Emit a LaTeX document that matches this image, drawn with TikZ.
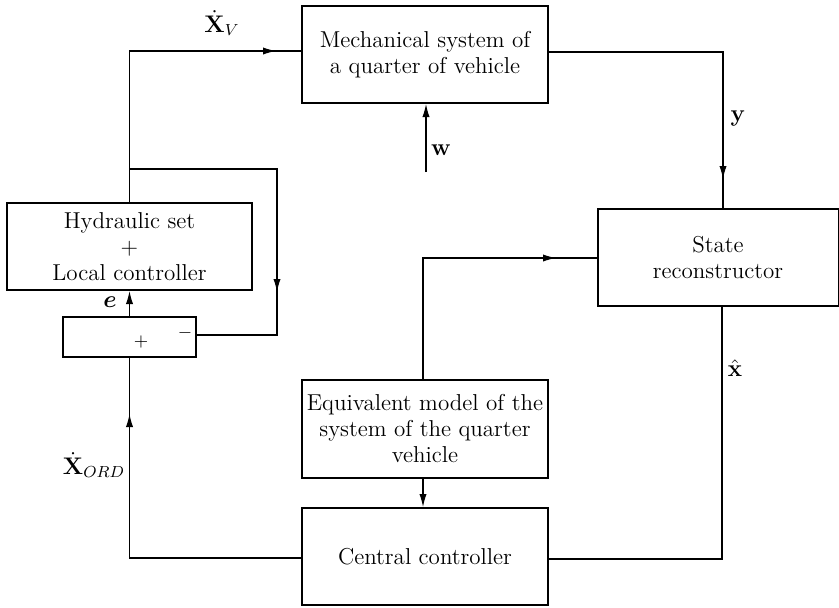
\documentclass[tikz,border=0pt]{standalone}
\usepackage{amsmath,amssymb}
\usetikzlibrary{arrows.meta,positioning}

\begin{document}
\begin{tikzpicture}[x=0.5pt,y=-0.5pt,>={Latex[length=6.5pt,width=3.6pt]}]
          \tikzstyle{block}=[rectangle,draw=black,line width=1pt,align=center,inner sep=2pt,font=\fontsize{11.5}{13}\selectfont]
          \tikzstyle{lab}=[inner sep=0pt,font=\fontsize{11.5}{13}\selectfont]
          \tikzstyle{wire}=[line width=0.55pt]

          \useasboundingbox (0,0) rectangle (839,607);

          \begin{scope}
            \node[block,minimum width=123pt,minimum height=48.5pt](mech) at (425,54.5){Mechanical system of\\a quarter of vehicle};
            \node[block,minimum width=122.5pt,minimum height=43.5pt](hyd) at (129.5,246.5){Hydraulic set\\+\\Local controller};
            \node[block,minimum width=66.5pt,minimum height=20pt,below=12.5pt of hyd](sum){};
            \node[block,minimum width=120.5pt,minimum height=48.5pt](state) at (718,257.5){State\\reconstructor};
            \node[block,minimum width=123pt,minimum height=49pt](equiv) at (425,429){Equivalent model of the\\system of the quarter\\vehicle};
            \node[block,minimum width=123pt,minimum height=48.5pt,below=14pt of equiv](central){Central controller};

            % signs of the summer
            \node[lab,font=\small](minus) at (185,333){$-$};
            \node[lab,font=\small](plus) at (141,342){$+$};

            % labels
            \node[lab](xv) at (222,23){$\dot{\mathbf{X}}_V$};
            \node[lab](yl) at (738,118){$\mathbf{y}$};
            \node[lab](wl) at (441,150){$\mathbf{w}$};
            \node[lab](el) at (110,302){$\boldsymbol{e}$};
            \node[lab](xord) at (94,465){$\dot{\mathbf{X}}_{ORD}$};
            \node[lab](xhat) at (735,368){$\hat{\mathbf{x}}$};

            \coordinate (vtop) at (129.5,51);
            \coordinate (vtip) at (276,51);
            \coordinate (ycorner) at (723,52);
            \coordinate (ytip) at (723,179);
            \coordinate (wstart) at (426,172);
            \coordinate (jn) at (129.5,169);
            \coordinate (fbcorner) at (277,169);
            \coordinate (fbtip) at (277,292);
            \coordinate (fbend) at (277,335);
            \coordinate (ordcorner) at (129.5,558);
            \coordinate (ordtip) at (129.5,414);
            \coordinate (eqcorner) at (423,258);
            \coordinate (eqtip) at (556,258);
            \coordinate (xcorner) at (722,559);

            % connectors, arrow tips drawn over them
            \draw[wire] (hyd.north) -- (vtop) -- (mech.west |- vtop);
            \draw[wire,->] (vtop) -- (vtip);
            \draw[wire] (mech.east |- ycorner) -- (ycorner) -- (ycorner |- state.north);
            \draw[wire,->] (ycorner) -- (ytip);
            \draw[wire,->] (wstart) -- (wstart |- mech.south);
            \draw[wire] (jn) -- (fbcorner) -- (fbend) -- (sum.east |- fbend);
            \draw[wire,->] (fbcorner) -- (fbtip);
            \draw[wire,->] (sum.north) -- (hyd.south);
            \draw[wire] (central.west |- ordcorner) -- (ordcorner) -- (sum.south);
            \draw[wire,->] (ordcorner) -- (ordtip);
            \draw[wire,->] (equiv.south -| eqcorner) -- (central.north -| eqcorner);
            \draw[wire] (equiv.north -| eqcorner) -- (eqcorner) -- (state.west |- eqcorner);
            \draw[wire,->] (eqcorner) -- (eqtip);
            \draw[wire] (state.south -| xcorner) -- (xcorner) -- (central.east |- xcorner);
          \end{scope}
        \end{tikzpicture}
\end{document}
